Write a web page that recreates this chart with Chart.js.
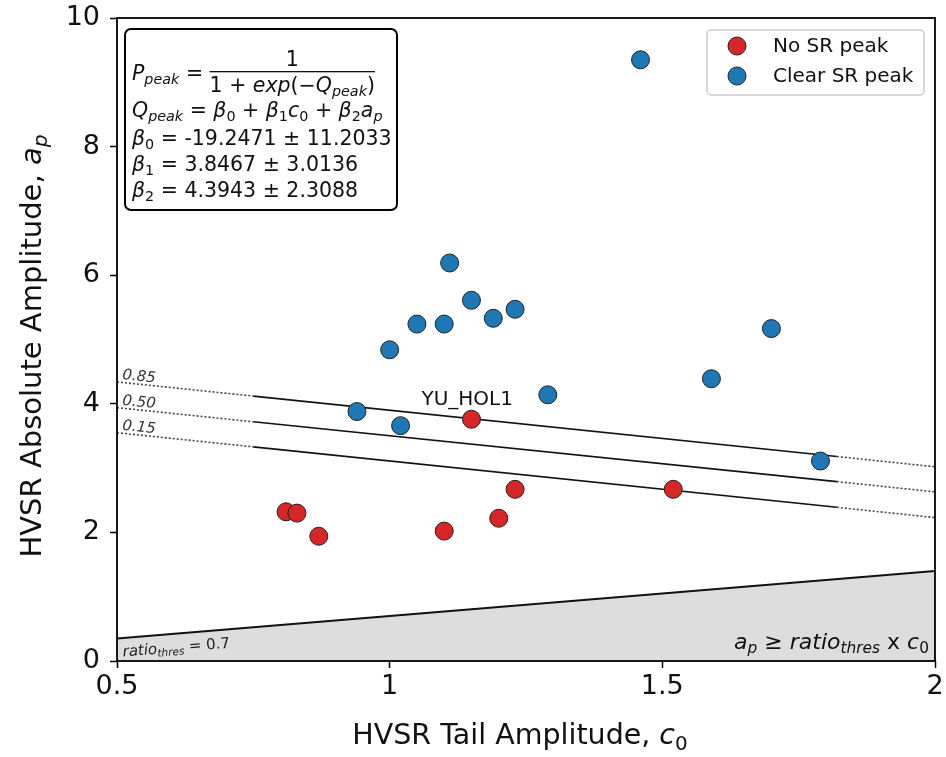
<!DOCTYPE html>
<html>
<head>
<meta charset="utf-8">
<script src="https://cdn.jsdelivr.net/npm/chart.js@4/dist/chart.umd.min.js"></script>
<style>
  html, body { margin: 0; padding: 0; background: #fff; }
  #wrap { width: 946px; height: 757px; }
</style>
</head>
<body>
<div id="wrap"><canvas id="chart" width="946" height="757"></canvas></div>
<script>
// Station points
const noPeakC0 = [0.81, 0.83, 0.87, 1.10, 1.15, 1.20, 1.23, 1.52];
const noPeakAp = [2.32, 2.30, 1.94, 2.02, 3.76, 2.22, 2.67, 2.67];
const clearPeakC0 = [0.94, 1.00, 1.02, 1.05, 1.10, 1.11, 1.15, 1.19, 1.23, 1.29, 1.46, 1.59, 1.70, 1.79];
const clearPeakAp = [3.88, 4.84, 3.66, 5.24, 5.24, 6.19, 5.61, 5.33, 5.47, 4.14, 9.35, 4.39, 5.17, 3.11];

// Probability contours (dotted / solid / dotted pieces)
const contourLevels = ['0.85', '0.50', '0.15'];
const contourC0 = [0.5, 0.75, 1.82, 2.0];
const contour85 = [4.34, 4.12, 3.18, 3.02];
const contour50 = [3.94, 3.72, 2.79, 2.63];
const contour15 = [3.55, 3.33, 2.39, 2.23];

// ratio threshold line
const thresC0 = [0.5, 2.0];
const thresAp = [0.35, 1.40];

const labelledStation = 'YU_HOL1';
const labelledIndex = 4; // in noPeak arrays

const xTicks = [0.5, 1, 1.5, 2];
const xTickLabels = ['0.5', '1', '1.5', '2'];
const yTicks = [0, 2, 4, 6, 8, 10];

const RED = '#d62728';
const BLUE = '#1f77b4';
const FONT = "'DejaVu Sans'";

function zip(xs, ys) {
    return xs.map((x, i) => ({ x: x, y: ys[i] }));
}

// draw a list of text runs: {t, it (italic), sub}
function runsWidth(ctx, runs, size) {
    let w = 0;
    runs.forEach(r => {
        const s = r.sub ? size * 0.7 : size;
        ctx.font = (r.it ? 'italic ' : '') + s + 'px ' + FONT;
        w += ctx.measureText(r.t).width;
    });
    return w;
}

function drawRuns(ctx, x, y, runs, size) {
    ctx.textBaseline = 'alphabetic';
    ctx.textAlign = 'left';
    runs.forEach(r => {
        const s = r.sub ? size * 0.7 : size;
        ctx.font = (r.it ? 'italic ' : '') + s + 'px ' + FONT;
        ctx.fillText(r.t, x, r.sub ? y + size * 0.2 : y);
        x += ctx.measureText(r.t).width;
    });
    return x;
}

function roundRect(ctx, x, y, w, h, r) {
    ctx.beginPath();
    ctx.moveTo(x + r, y);
    ctx.arcTo(x + w, y, x + w, y + h, r);
    ctx.arcTo(x + w, y + h, x, y + h, r);
    ctx.arcTo(x, y + h, x, y, r);
    ctx.arcTo(x, y, x + w, y, r);
    ctx.closePath();
}

const overlayPlugin = {
    id: 'overlay',
    afterDraw(chart) {
        const ctx = chart.ctx;
        const xs = chart.scales.x, ys = chart.scales.y;
        const area = chart.chartArea;
        ctx.save();
        ctx.fillStyle = '#111';

        // contour labels, rotated along the lines
        const contours = [contour85, contour50, contour15];
        contours.forEach((c, i) => {
            const x0 = xs.getPixelForValue(contourC0[0]), y0 = ys.getPixelForValue(c[0]);
            const x1 = xs.getPixelForValue(contourC0[1]), y1 = ys.getPixelForValue(c[1]);
            const ang = Math.atan2(y1 - y0, x1 - x0);
            ctx.save();
            ctx.translate(x0 + 5, y0 - 3);
            ctx.rotate(ang);
            ctx.font = 'italic 15px ' + FONT;
            ctx.fillStyle = '#333';
            ctx.textAlign = 'left';
            ctx.textBaseline = 'alphabetic';
            ctx.fillText(contourLevels[i], 0, 0);
            ctx.restore();
        });

        // station label
        const pt = chart.getDatasetMeta(0).data[labelledIndex];
        ctx.font = '20px ' + FONT;
        ctx.fillStyle = '#111';
        ctx.textAlign = 'left';
        ctx.textBaseline = 'alphabetic';
        ctx.fillText(labelledStation, pt.x - 50, pt.y - 14);

        // ratio threshold label, rotated along the line
        {
            const x0 = xs.getPixelForValue(thresC0[0]), y0 = ys.getPixelForValue(thresAp[0]);
            const x1 = xs.getPixelForValue(thresC0[1]), y1 = ys.getPixelForValue(thresAp[1]);
            const ang = Math.atan2(y1 - y0, x1 - x0);
            ctx.save();
            ctx.translate(x0 + 6, y0 + 18);
            ctx.rotate(ang);
            ctx.fillStyle = '#222';
            drawRuns(ctx, 0, 0, [{ t: 'ratio', it: true }, { t: 'thres', it: true, sub: true }, { t: ' = 0.7' }], 15);
            ctx.restore();
        }

        // inequality label bottom right
        const ineq = [{ t: 'a', it: true }, { t: 'p', it: true, sub: true }, { t: ' ≥ ' }, { t: 'ratio', it: true },
            { t: 'thres', it: true, sub: true }, { t: ' x ' }, { t: 'c', it: true }, { t: '0', sub: true }];
        ctx.fillStyle = '#111';
        const iw = runsWidth(ctx, ineq, 22);
        drawRuns(ctx, area.right - 6 - iw, area.bottom - 12, ineq, 22);

        // fit text box
        ctx.lineWidth = 2;
        ctx.strokeStyle = '#000';
        ctx.fillStyle = '#fff';
        roundRect(ctx, 125, 29, 272, 181, 6);
        ctx.fill();
        ctx.stroke();
        ctx.fillStyle = '#111';
        const fs = 20.5;
        let xEnd = drawRuns(ctx, 132, 80, [{ t: 'P', it: true }, { t: 'peak', it: true, sub: true }, { t: ' = ' }], fs);
        const den = [{ t: '1 + ' }, { t: 'exp', it: true }, { t: '(−' }, { t: 'Q', it: true }, { t: 'peak', it: true, sub: true }, { t: ')' }];
        const dw = runsWidth(ctx, den, fs);
        ctx.font = fs + 'px ' + FONT;
        const nw = ctx.measureText('1').width;
        ctx.fillText('1', xEnd + dw / 2 - nw / 2, 66);
        ctx.fillRect(xEnd, 71, dw, 1.3);
        drawRuns(ctx, xEnd, 92, den, fs);
        drawRuns(ctx, 132, 117, [{ t: 'Q', it: true }, { t: 'peak', it: true, sub: true }, { t: ' = ' },
            { t: 'β', it: true }, { t: '0', sub: true }, { t: ' + ' }, { t: 'β', it: true }, { t: '1', sub: true },
            { t: 'c', it: true }, { t: '0', sub: true }, { t: ' + ' }, { t: 'β', it: true }, { t: '2', sub: true },
            { t: 'a', it: true }, { t: 'p', it: true, sub: true }], fs);
        drawRuns(ctx, 132, 145, [{ t: 'β', it: true }, { t: '0', sub: true }, { t: ' = -19.2471 ± 11.2033' }], fs);
        drawRuns(ctx, 132, 171, [{ t: 'β', it: true }, { t: '1', sub: true }, { t: ' = 3.8467 ± 3.0136' }], fs);
        drawRuns(ctx, 132, 197, [{ t: 'β', it: true }, { t: '2', sub: true }, { t: ' = 4.3943 ± 2.3088' }], fs);

        // legend
        ctx.lineWidth = 1.5;
        ctx.strokeStyle = '#cccccc';
        ctx.fillStyle = 'rgba(255,255,255,0.85)';
        roundRect(ctx, 707, 30, 217, 65, 4);
        ctx.fill();
        ctx.stroke();
        const legendItems = [['No SR peak', RED, 46], ['Clear SR peak', BLUE, 76]];
        legendItems.forEach(([txt, col, ly]) => {
            ctx.beginPath();
            ctx.arc(737, ly, 9, 0, Math.PI * 2);
            ctx.fillStyle = col;
            ctx.fill();
            ctx.lineWidth = 1;
            ctx.strokeStyle = '#222';
            ctx.stroke();
            ctx.fillStyle = '#111';
            ctx.font = '20px ' + FONT;
            ctx.textBaseline = 'middle';
            ctx.fillText(txt, 773, ly + 1);
        });

        // frame
        ctx.lineWidth = 1.8;
        ctx.strokeStyle = '#000';
        ctx.strokeRect(area.left, area.top, area.right - area.left, area.bottom - area.top);

        // axis titles
        ctx.fillStyle = '#111';
        const xt = [{ t: 'HVSR Tail Amplitude, ' }, { t: 'c', it: true }, { t: '0', sub: true }];
        const xtw = runsWidth(ctx, xt, 28.5);
        drawRuns(ctx, (area.left + area.right) / 2 - xtw / 2 - 6, 744, xt, 28.5);
        const yt = [{ t: 'HVSR Absolute Amplitude, ' }, { t: 'a', it: true }, { t: 'p', it: true, sub: true }];
        const ytw = runsWidth(ctx, yt, 29);
        ctx.save();
        ctx.translate(41, 346);
        ctx.rotate(-Math.PI / 2);
        drawRuns(ctx, -ytw / 2, 0, yt, 29);
        ctx.restore();

        ctx.restore();
    }
};

const lineStyle = {
    showLine: true,
    pointRadius: 0,
    borderColor: '#111',
    borderWidth: 1.6,
    fill: false,
    order: 2,
    segment: {
        borderDash: c => (c.p0DataIndex === 1 ? [] : [2, 2]),
        borderColor: c => (c.p0DataIndex === 1 ? '#111' : '#444')
    }
};

const ctx = document.getElementById('chart').getContext('2d');
new Chart(ctx, {
    type: 'scatter',
    data: {
        datasets: [
            {
                label: 'No SR peak',
                data: zip(noPeakC0, noPeakAp),
                backgroundColor: RED,
                borderColor: '#222',
                borderWidth: 1,
                pointRadius: 9,
                order: 0
            },
            {
                label: 'Clear SR peak',
                data: zip(clearPeakC0, clearPeakAp),
                backgroundColor: BLUE,
                borderColor: '#222',
                borderWidth: 1,
                pointRadius: 9,
                order: 0
            },
            Object.assign({ label: 'P 0.85', data: zip(contourC0, contour85) }, lineStyle),
            Object.assign({ label: 'P 0.50', data: zip(contourC0, contour50) }, lineStyle),
            Object.assign({ label: 'P 0.15', data: zip(contourC0, contour15) }, lineStyle),
            {
                label: 'ratio threshold',
                data: zip(thresC0, thresAp),
                showLine: true,
                pointRadius: 0,
                borderColor: '#111',
                borderWidth: 2,
                backgroundColor: '#dddddd',
                fill: 'origin',
                order: 3
            }
        ]
    },
    options: {
        responsive: false,
        animation: false,
        layout: { padding: { top: 18, right: 11, left: 0, bottom: 0 } },
        plugins: {
            legend: { display: false },
            tooltip: { enabled: false }
        },
        scales: {
            x: {
                type: 'linear',
                min: 0.5,
                max: 2,
                afterFit: s => { s.height = 96; s.paddingRight = 0; s.paddingLeft = 0; },
                afterBuildTicks: s => { s.ticks = xTicks.map(v => ({ value: v })); },
                border: { display: false },
                grid: { drawOnChartArea: false, drawTicks: true, tickLength: 7, color: '#000', tickWidth: 1.5 },
                ticks: {
                    color: '#111',
                    font: { family: 'DejaVu Sans', size: 27 },
                    padding: 3,
                    callback: (v, i) => xTickLabels[i]
                }
            },
            y: {
                type: 'linear',
                min: 0,
                max: 10,
                afterFit: s => { s.width = 117; s.paddingTop = 0; s.paddingBottom = 0; },
                afterBuildTicks: s => { s.ticks = yTicks.map(v => ({ value: v })); },
                border: { display: false },
                grid: { drawOnChartArea: false, drawTicks: true, tickLength: 7, color: '#000', tickWidth: 1.5 },
                ticks: { color: '#111', font: { family: 'DejaVu Sans', size: 27 }, padding: 10 }
            }
        }
    },
    plugins: [overlayPlugin]
});
</script>
</body>
</html>
